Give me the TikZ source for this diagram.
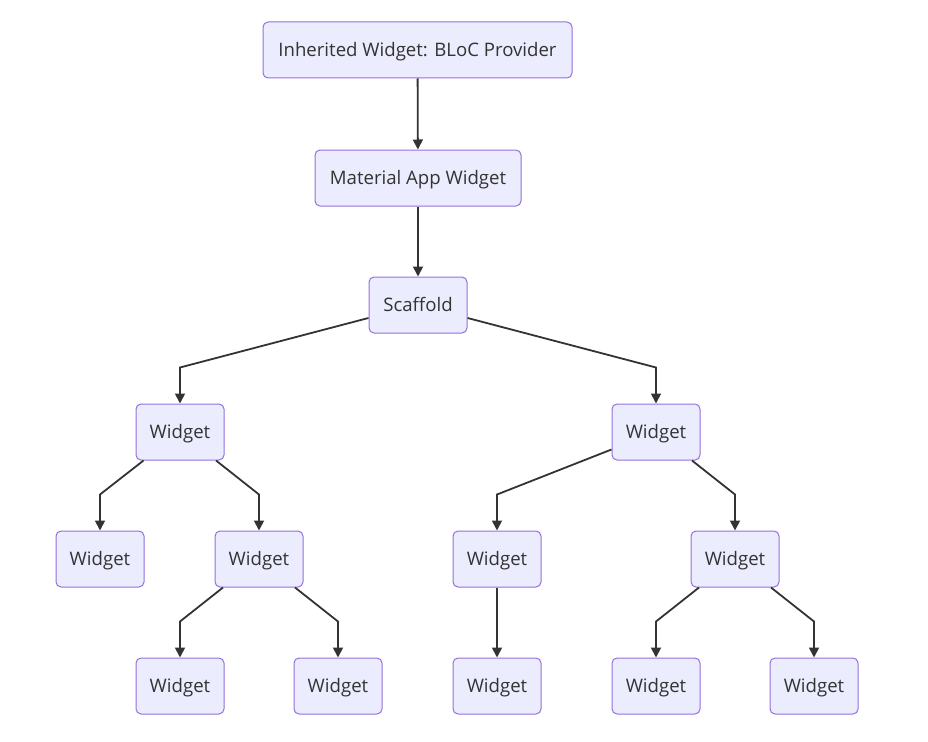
\documentclass[tikz,border=0pt]{standalone}
\usepackage{fontspec}
\setmainfont{Open Sans}
\usetikzlibrary{arrows.meta}
\definecolor{boxfill}{HTML}{ECECFF}
\definecolor{boxline}{HTML}{9370DB}
\definecolor{ink}{HTML}{333333}
\tikzset{
  box/.style={draw=boxline, fill=boxfill, line width=1pt, rounded corners=5pt,
    minimum height=56pt, inner sep=0pt, text=ink, text height=12.5pt, text depth=0pt,
    font=\fontsize{18.6}{22}\selectfont},
  wbox/.style={box, minimum width=88pt},
  arr/.style={draw=ink, line width=1.8pt, -{Triangle[length=10pt,width=10pt]}},
}
\newcommand{\edge}[2]{\draw[arr] (#1) -- ([yshift=36pt]#2.north) -- (#2);}
\begin{document}
\begin{tikzpicture}[x=1pt,y=-1pt]
\useasboundingbox (0,0) rectangle (928,741);
\node[box, minimum width=309pt] (bloc) at (417.5,50) {Inherited Widget: BLoC Provider};
\node[box, minimum width=206pt] (mat) at (418,178) {Material App Widget};
\node[box, minimum width=98pt] (scf) at (418,305) {Scaffold};
\node[wbox] (wl) at (180,432) {Widget};
\node[wbox] (wr) at (656,432) {Widget};
\node[wbox] (wll) at (100,559) {Widget};
\node[wbox] (wlr) at (259,559) {Widget};
\node[wbox] (wrl) at (497,559) {Widget};
\node[wbox] (wrr) at (735,559) {Widget};
\node[wbox] (wlrl) at (180,686) {Widget};
\node[wbox] (wlrr) at (338,686) {Widget};
\node[wbox] (wrll) at (497,686) {Widget};
\node[wbox] (wrrl) at (656,686) {Widget};
\node[wbox] (wrrr) at (814,686) {Widget};
\draw[arr] (bloc) -- (mat);
\draw[arr] (mat) -- (scf);
\edge{scf}{wl}
\edge{scf}{wr}
\edge{wl}{wll}
\edge{wl}{wlr}
\edge{wr}{wrl}
\edge{wr}{wrr}
\edge{wlr}{wlrl}
\edge{wlr}{wlrr}
\draw[arr] (wrl) -- (wrll);
\edge{wrr}{wrrl}
\edge{wrr}{wrrr}
\end{tikzpicture}
\end{document}
